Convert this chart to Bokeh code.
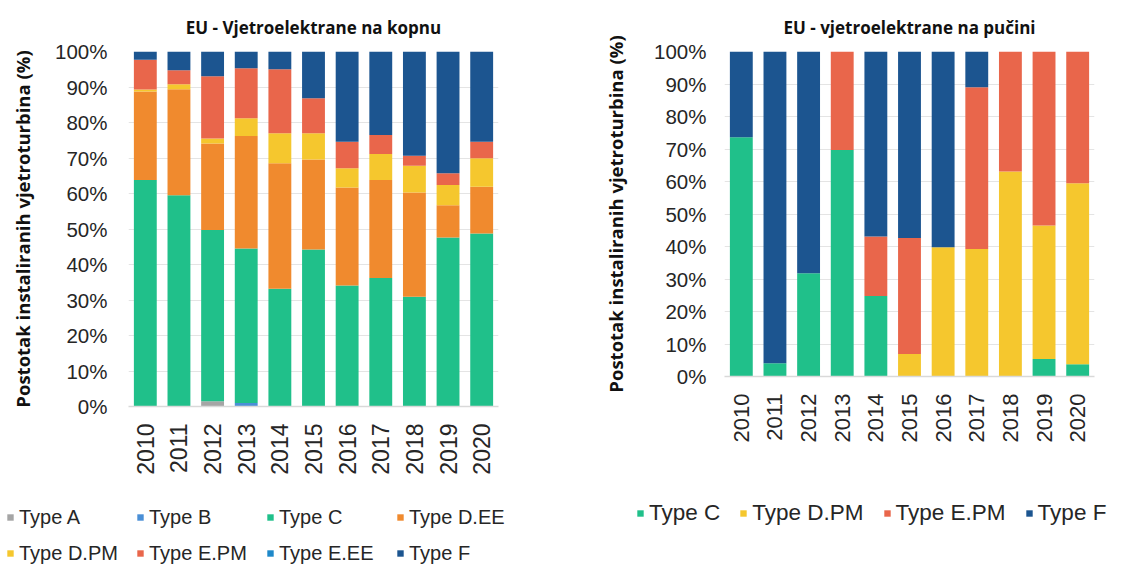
import math
from bokeh.plotting import figure
from bokeh.models import (ColumnDataSource, FixedTicker, PrintfTickFormatter, Legend,
                          LegendItem, Title, Range1d)
from bokeh.layouts import row, column
from bokeh.embed import file_html
from bokeh.resources import INLINE

years = [str(y) for y in range(2010, 2021)]
y_ticks = [0, 10, 20, 30, 40, 50, 60, 70, 80, 90, 100]

# ---- Onshore (left) shares in % ----
on_type_a   = [0, 0, 1.5, 0, 0, 0, 0, 0, 0, 0, 0]
on_type_b   = [0, 0, 0, 1.0, 0, 0, 0, 0, 0, 0, 0]
on_type_c   = [63.8, 59.5, 48.2, 43.5, 33.2, 44.2, 34.1, 36.2, 30.9, 47.6, 48.7]
on_type_dee = [24.9, 29.9, 24.4, 31.7, 35.3, 25.4, 27.6, 27.6, 29.4, 9.1, 13.2]
on_type_dpm = [0.6, 1.4, 1.4, 5.0, 8.5, 7.4, 5.4, 7.3, 7.5, 5.7, 8.0]
on_type_epm = [8.4, 3.9, 17.5, 14.1, 18.0, 9.8, 7.5, 5.4, 2.8, 3.3, 4.7]
on_type_eee = [0, 0, 0, 0, 0, 0, 0, 0, 0, 0, 0]
on_type_f   = [2.3, 5.4, 7.0, 4.7, 5.2, 13.2, 25.4, 23.5, 29.4, 34.3, 25.4]

# ---- Offshore (right) shares in % ----
off_type_c   = [73.6, 4.1, 31.8, 69.7, 24.8, 0, 0, 0, 0, 5.4, 3.8]
off_type_dpm = [0, 0, 0, 0, 0, 6.9, 39.8, 39.2, 63.1, 41.1, 55.7]
off_type_epm = [0, 0, 0, 30.3, 18.3, 35.7, 0, 49.8, 36.9, 53.5, 40.5]
off_type_f   = [26.4, 95.9, 68.2, 0, 56.9, 57.4, 60.2, 11.0, 0, 0, 0]

on_labels = ["Type A", "Type B", "Type C", "Type D.EE", "Type D.PM", "Type E.PM", "Type E.EE", "Type F"]
on_colors = ["#a5a5a5", "#4a8fd6", "#20c08a", "#f08a2e", "#f5c72e", "#e9664b", "#1e88c9", "#1c5590"]
off_labels = ["Type C", "Type D.PM", "Type E.PM", "Type F"]
off_colors = ["#20c08a", "#f5c72e", "#e9664b", "#1c5590"]

TICK_FONT = "Liberation Sans"
TEXT_COL = "#262626"


def no_align(p):
    if "frame_align" in p.properties():
        p.frame_align = False


def style(p, xfont, yfont, ytick_standoff, ylabel_standoff, xtick_standoff):
    no_align(p)
    p.x_range.range_padding = 0
    p.outline_line_color = None
    p.xgrid.visible = False
    p.ygrid.grid_line_color = "#e4e4e4"
    p.ygrid.grid_line_width = 1
    p.yaxis.ticker = FixedTicker(ticks=y_ticks)
    p.yaxis.formatter = PrintfTickFormatter(format="%d%%")
    p.yaxis.axis_line_color = None
    p.yaxis.major_tick_line_color = None
    p.yaxis.minor_tick_line_color = None
    p.yaxis.major_tick_out = 0
    p.yaxis.major_tick_in = 0
    p.yaxis.major_label_text_font = TICK_FONT
    p.yaxis.major_label_text_font_size = yfont
    p.yaxis.major_label_text_color = TEXT_COL
    p.yaxis.major_label_standoff = ytick_standoff
    p.yaxis.axis_label = "Postotak instaliranih vjetroturbina (%)"
    p.yaxis.axis_label_text_font = "Open Sans"
    p.yaxis.axis_label_text_font_style = "bold"
    p.yaxis.axis_label_text_font_size = "18.5px"
    p.yaxis.axis_label_text_color = "#111111"
    p.yaxis.axis_label_standoff = ylabel_standoff
    p.xaxis.axis_line_color = "#d9d9d9"
    p.xaxis.axis_line_width = 1.5
    p.xaxis.major_tick_line_color = None
    p.xaxis.minor_tick_line_color = None
    p.xaxis.major_tick_out = 0
    p.xaxis.major_tick_in = 0
    p.xaxis.major_label_orientation = math.pi / 2
    p.xaxis.major_label_text_font = TICK_FONT
    p.xaxis.major_label_text_font_size = xfont
    p.xaxis.major_label_text_color = TEXT_COL
    p.xaxis.major_label_standoff = xtick_standoff


def add_title(p, text, offset, standoff):
    p.add_layout(Title(text=text, align="center", offset=offset, text_font="Open Sans",
                       text_font_style="bold", text_font_size="17px",
                       text_color="#111111", standoff=standoff), "above")


def legend_fig(width, height, labels, colors, loc, ncols, font_size, spacing,
               label_width, label_height):
    f = figure(width=width, height=height, output_backend="svg", toolbar_location=None,
               x_axis_type=None, y_axis_type=None, min_border=0,
               x_range=Range1d(0, 1), y_range=Range1d(0, 1))
    no_align(f)
    f.outline_line_color = None
    f.xgrid.visible = False
    f.ygrid.visible = False
    items = []
    for lab, col in zip(labels, colors):
        # swatch source lies outside the visible ranges; only the legend glyph shows
        r = f.vbar(x=[5], top=[5], width=0.5, color=col, line_width=0)
        items.append(LegendItem(label=lab, renderers=[r]))
    leg = Legend(items=items, location=loc, ncols=ncols, orientation="horizontal",
                 label_text_font=TICK_FONT, label_text_font_size=font_size,
                 label_text_color=TEXT_COL, glyph_width=8, glyph_height=8,
                 label_standoff=5, spacing=spacing, padding=0, margin=0,
                 border_line_color=None, background_fill_alpha=0,
                 label_width=label_width, label_height=label_height)
    f.add_layout(leg)
    return f


# ---------- Left chart ----------
src1 = ColumnDataSource(dict(year=years, a=on_type_a, b=on_type_b, c=on_type_c,
                             dee=on_type_dee, dpm=on_type_dpm, epm=on_type_epm,
                             eee=on_type_eee, f=on_type_f))
p1 = figure(x_range=years, y_range=(0, 100), frame_width=370, frame_height=355,
            output_backend="svg", toolbar_location=None,
            min_border_left=128, min_border_right=64, min_border_top=48, min_border_bottom=70)
p1.vbar_stack(["a", "b", "c", "dee", "dpm", "epm", "eee", "f"], x="year", width=0.68,
              color=on_colors, line_width=0, source=src1)
style(p1, "23px", "20.5px", 21, 17, 17)
add_title(p1, "EU - Vjetroelektrane na kopnu", -14, 26)
leg1 = legend_fig(562, 88, on_labels, on_colors, (6, 0), 4, "20px", 12, 105, 24)

# ---------- Right chart ----------
src2 = ColumnDataSource(dict(year=years, c=off_type_c, dpm=off_type_dpm,
                             epm=off_type_epm, f=off_type_f))
p2 = figure(x_range=years, y_range=(0, 100), frame_width=370, frame_height=325,
            output_backend="svg", toolbar_location=None,
            min_border_left=162, min_border_right=20, min_border_top=48, min_border_bottom=75)
p2.vbar_stack(["c", "dpm", "epm", "f"], x="year", width=0.68,
              color=off_colors, line_width=0, source=src2)
style(p2, "22px", "20.5px", 18, 23, 17)
add_title(p2, "EU - vjetroelektrane na pučini", -2, 26)
leg2 = legend_fig(552, 113, off_labels, off_colors, (74, 38), 4, "22.5px", 19, 20, 26)

layout = row(column(p1, leg1, spacing=0), column(p2, leg2, spacing=0), spacing=0)
open("out.html", "w").write(file_html(layout, INLINE))
